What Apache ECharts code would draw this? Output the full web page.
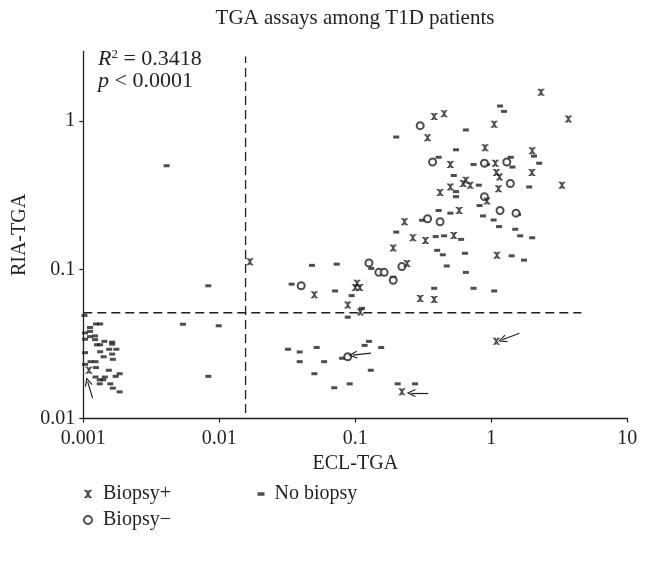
<!DOCTYPE html>
<html><head><meta charset="utf-8">
<script src="https://cdn.jsdelivr.net/npm/echarts@6/dist/echarts.min.js"></script>
<style>html,body{margin:0;padding:0;background:#fff}#c{width:651px;height:570px}</style>
</head><body><div id="c"></div>
<script>
// ---------- data ----------
const chartTitle = 'TGA assays among T1D patients';
const xName = 'ECL-TGA';
const yName = 'RIA-TGA';
const xTickValues = [0.001, 0.01, 0.1, 1, 10];
const yTickValues = [0.01, 0.1, 1];
const statsR2 = '0.3418';
const statsP = '0.0001';
const seriesNames = ['Biopsy+', 'Biopsy\u2212', 'No biopsy'];

// [ECL-TGA, RIA-TGA]
const biopsyPos = [
  [2.32,1.56],[3.69,1.03],[0.38,1.07],[0.45,1.12],[1.05,0.95],[0.34,0.77],[0.90,0.66],[2.00,0.63],
  [0.50,0.51],[1.07,0.52],[1.99,0.45],[1.09,0.45],[1.15,0.42],[0.65,0.40],[0.62,0.38],[0.70,0.37],
  [0.50,0.36],[0.42,0.33],[1.13,0.35],[0.93,0.29],[3.31,0.37],[0.58,0.25],[0.23,0.21],[0.265,0.164],
  [0.328,0.157],[0.53,0.17],[0.19,0.14],[0.24,0.11],[0.103,0.081],[0.100,0.076],[0.108,0.076],
  [0.050,0.068],[0.088,0.058],[0.109,0.052],[0.30,0.064],[0.38,0.063],[0.0168,0.113],[0.0011,0.0211],
  [1.09,0.033],[0.22,0.0151],[1.10,0.125]
];
const biopsyNeg = [
  [0.30,0.93],[0.37,0.53],[0.89,0.52],[1.30,0.53],[1.38,0.38],[0.89,0.31],[1.16,0.25],[1.52,0.24],
  [0.34,0.22],[0.42,0.21],[0.126,0.111],[0.149,0.096],[0.163,0.096],[0.22,0.105],[0.19,0.085],
  [0.040,0.078],[0.088,0.026]
];
const noBiopsy = [
  [1.16,1.26],[1.24,1.16],[0.65,0.87],[0.20,0.78],[0.55,0.64],[2.06,0.58],[0.41,0.57],[0.74,0.51],
  [1.39,0.57],[1.43,0.49],[2.25,0.52],[0.93,0.51],[0.53,0.43],[0.81,0.37],[0.55,0.335],[0.55,0.31],
  [1.90,0.36],[0.82,0.27],[0.50,0.24],[0.41,0.25],[0.31,0.215],[0.87,0.23],[1.04,0.216],[1.14,0.195],
  [1.50,0.187],[1.63,0.169],[2.00,0.164],[1.57,0.235],[0.20,0.179],[0.39,0.167],[0.45,0.169],[0.60,0.160],
  [0.40,0.135],[0.44,0.126],[0.64,0.129],[0.47,0.106],[0.65,0.096],[0.74,0.075],[0.38,0.075],[1.41,0.124],
  [1.74,0.116],[1.05,0.072],[0.131,0.102],[0.19,0.089],[0.048,0.107],[0.073,0.109],[0.034,0.080],
  [0.071,0.072],[0.094,0.067],[0.112,0.055],[0.088,0.048],[0.0083,0.078],[0.0054,0.043],[0.0099,0.042],
  [0.0083,0.0192],[0.0041,0.50],[0.126,0.033],[0.117,0.031],[0.155,0.030],[0.080,0.0254],[0.130,0.0211],
  [0.070,0.0161],[0.091,0.0171],[0.205,0.0171],[0.275,0.0171],[0.032,0.0292],[0.039,0.028],[0.052,0.030],
  [0.039,0.0241],[0.059,0.0241],[0.050,0.020],
  [0.00102,0.0493],[0.00124,0.0432],[0.00133,0.0432],[0.00112,0.0409],[0.00112,0.0385],[0.00103,0.0376],
  [0.00112,0.0355],[0.00122,0.0359],[0.00103,0.0341],[0.00122,0.0339],[0.00126,0.0313],[0.00133,0.0313],
  [0.00143,0.0330],[0.00163,0.0326],[0.00163,0.0316],[0.00155,0.0292],[0.00175,0.0292],[0.00133,0.0281],
  [0.00103,0.0277],[0.00163,0.0271],[0.00141,0.0260],[0.00165,0.0250],[0.00113,0.0241],[0.00123,0.0241],
  [0.00103,0.0231],[0.00124,0.0220],[0.00154,0.0211],[0.00185,0.0200],[0.00173,0.0192],[0.00123,0.0190],
  [0.00144,0.0190],[0.00132,0.0182],[0.00140,0.0182],[0.00132,0.0171],[0.00158,0.0171],[0.00165,0.0160],
  [0.00185,0.0151]
];
// cut-off lines (data coordinates)
const cutoffVertical = [[0.0156,0.0109],[0.0156,2.71]];
const cutoffHorizontal = [[0.001,0.0514],[4.6,0.0514]];
// arrows [from, to] in data coordinates
const arrows = [
  [[0.00117,0.0137],[0.001076,0.0177]],
  [[0.1305,0.0275],[0.0959,0.0267]],
  [[1.61,0.0374],[1.205,0.0338]],
  [[0.344,0.01484],[0.2576,0.01484]]
];

// ---------- style ----------
const INK = '#231f20';
const FONT = '"Liberation Serif","DejaVu Serif",serif';
const xSym = 'path://M0,0H4L5,2.2L6,0H10V1.4H8.9L6.3,5L8.9,8.6H10V10H6L5,7.8L4,10H0V8.6H1.1L3.7,5L1.1,1.4H0Z';
const dashSym = 'path://M0,0H10V5H0Z';
const chevron = 'path://M5,0L10,10L8.7,10.7L5,3L1.3,10.7L0,10Z';

const chart = echarts.init(document.getElementById('c'), null, {renderer: 'canvas'});

function fmt(v) {
  const l = Math.log10(v);
  if (Math.abs(l - Math.round(l)) > 1e-6) return '';
  return String(Number(v.toPrecision(3)));
}

const axisCommon = {
  type: 'log', logBase: 10,
  axisLine: {show: true, lineStyle: {color: INK, width: 1.3}},
  axisTick: {show: true, length: 4, lineStyle: {color: INK, width: 1.2}},
  splitLine: {show: false},
  minorTick: {show: false},
  nameTextStyle: {color: INK, fontFamily: FONT, fontSize: 20},
  axisLabel: {color: INK, fontFamily: FONT, fontSize: 20, formatter: fmt}
};

const legendText = {color: INK, fontFamily: FONT, fontSize: 20};

const option = {
  animation: false,
  backgroundColor: '#fff',
  grid: {left: 83.3, right: 23.7, top: 51.5, bottom: 151.5, containLabel: false},
  xAxis: Object.assign({}, axisCommon, {
    min: xTickValues[0], max: xTickValues[xTickValues.length - 1],
    name: xName, nameLocation: 'middle', nameGap: 34,
    axisTick: Object.assign({}, axisCommon.axisTick, {customValues: xTickValues}),
    axisLabel: Object.assign({}, axisCommon.axisLabel, {margin: 10, customValues: xTickValues})
  }),
  yAxis: Object.assign({}, axisCommon, {
    min: yTickValues[0], max: 2.93,
    name: yName, nameLocation: 'middle', nameGap: 48,
    axisTick: Object.assign({}, axisCommon.axisTick, {customValues: yTickValues}),
    axisLabel: Object.assign({}, axisCommon.axisLabel, {margin: 8, customValues: yTickValues})
  }),
  legend: [
    {left: 83, top: 484, orient: 'vertical', padding: 0, itemGap: 6, itemWidth: 8, itemHeight: 8,
     textStyle: Object.assign({padding: [0, 0, 0, 6]}, legendText),
     data: [{name: seriesNames[0], icon: xSym}, {name: seriesNames[1], icon: 'emptyCircle'}]},
    {left: 257.5, top: 484, orient: 'vertical', padding: 0, itemWidth: 7, itemHeight: 7,
     textStyle: Object.assign({padding: [0, 0, 0, 5]}, legendText),
     data: [{name: seriesNames[2], icon: dashSym}]}
  ],
  graphic: [
    {type: 'text', x: 355, y: 18, style: {text: chartTitle, font: '21px ' + FONT, fill: INK, textAlign: 'center', textVerticalAlign: 'middle'}},
    {type: 'text', x: 98, y: 48, style: {
      text: '{i|R}{s|2}{n| = ' + statsR2 + '}\n{i|p}{n| < ' + statsP + '}',
      fill: INK,
      rich: {
        i: {fontFamily: FONT, fontStyle: 'italic', fontSize: 22, lineHeight: 22, fill: INK},
        s: {fontFamily: FONT, fontSize: 13, lineHeight: 22, verticalAlign: 'top', fill: INK},
        n: {fontFamily: FONT, fontSize: 22, lineHeight: 22, fill: INK}
      }
    }}
  ],
  series: [
    {name: 'cutV', type: 'line', data: cutoffVertical, symbol: 'none', silent: true, z: 1,
     lineStyle: {color: INK, width: 1.3, type: [9, 5]}},
    {name: 'cutH', type: 'line', data: cutoffHorizontal, symbol: 'none', silent: true, z: 1,
     lineStyle: {color: INK, width: 1.3, type: [9, 5]},
     markLine: {silent: true, symbol: ['none', chevron], symbolSize: [8, 9],
       label: {show: false}, lineStyle: {color: INK, width: 1.2, type: 'solid'},
       data: arrows.map(a => [{coord: a[0]}, {coord: a[1]}])}},
    {name: seriesNames[2], type: 'scatter', data: noBiopsy, symbol: dashSym, symbolSize: [6, 3],
     symbolKeepAspect: false, itemStyle: {color: INK}, z: 2},
    {name: seriesNames[1], type: 'scatter', data: biopsyNeg, symbol: 'emptyCircle', symbolSize: 7,
     itemStyle: {color: INK, borderColor: INK, borderWidth: 1.3}, z: 3},
    {name: seriesNames[0], type: 'scatter', data: biopsyPos, symbol: xSym, symbolSize: [7, 7],
     itemStyle: {color: INK}, z: 4}
  ]
};
chart.setOption(option);
</script></body></html>
